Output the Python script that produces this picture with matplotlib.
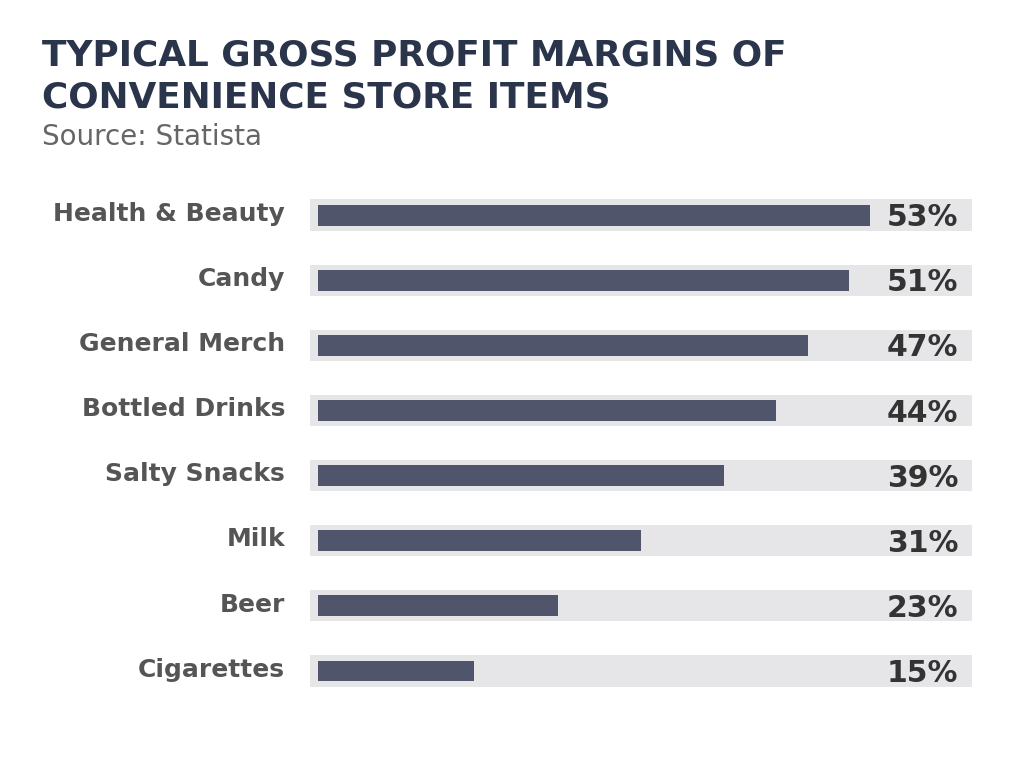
import matplotlib.pyplot as plt

categories = ["Health & Beauty", "Candy", "General Merch", "Bottled Drinks",
              "Salty Snacks", "Milk", "Beer", "Cigarettes"]
margins = [53, 51, 47, 44, 39, 31, 23, 15]
track_max = 62.8

bar_color = "#50556b"
track_color = "#e6e6e8"
title_color = "#2a344a"

plt.rcParams['font.family'] = ['DejaVu Sans']

fig = plt.figure(figsize=(10.24, 7.65), dpi=100)
ax = fig.add_axes([310 / 1024, 0.0804, 662 / 1024, 0.681])

ypos = list(range(len(categories)))
# grey background tracks
ax.barh(ypos, [track_max + 0.8] * len(categories), left=-0.8, height=0.48,
        color=track_color, zorder=1)
# value bars
ax.barh(ypos, margins, left=0, height=0.32, color=bar_color, zorder=2)

for y, name, v in zip(ypos, categories, margins):
    ax.text(-3.2, y - 0.02, name, ha="right", va="center", fontsize=18,
            fontweight="bold", color="#555555")
    ax.text(61.5, y + 0.04, f"{v}%", ha="right", va="center", fontsize=21.5,
            fontweight="bold", color="#333333", zorder=3)

ax.set_xlim(-0.8, track_max)
ax.set_ylim(len(categories) - 0.5, -0.5)
ax.axis("off")

fig.text(42 / 1024, 1 - 65 / 765, "TYPICAL GROSS PROFIT MARGINS OF", fontsize=25.8,
         fontweight="bold", color=title_color, va="baseline")
fig.text(42 / 1024, 1 - 108 / 765, "CONVENIENCE STORE ITEMS", fontsize=25.8,
         fontweight="bold", color=title_color, va="baseline")
fig.text(42 / 1024, 1 - 145 / 765, "Source: Statista", fontsize=20,
         color="#666666", va="baseline")

fig.savefig("out.png", dpi=100, facecolor="white")
